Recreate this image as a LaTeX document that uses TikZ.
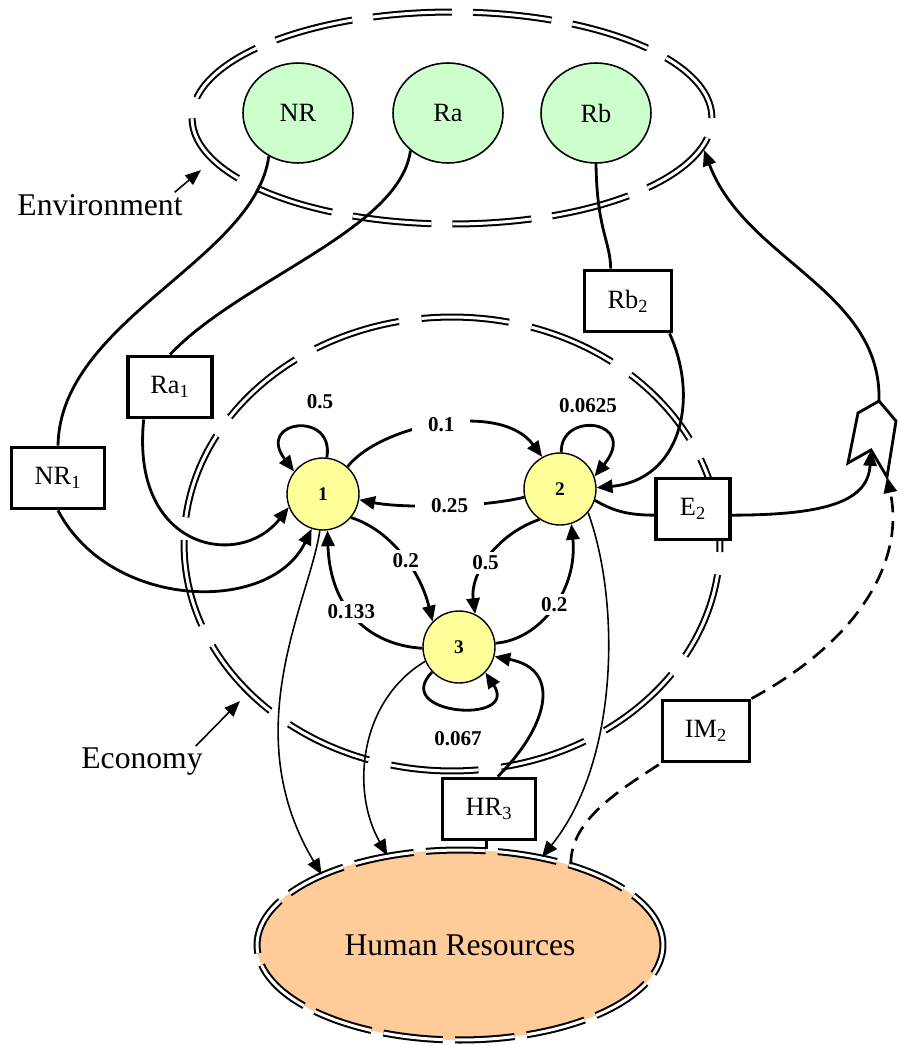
\documentclass[tikz,border=0pt]{standalone}
\usepackage{fontspec}
\setmainfont{Liberation Serif}
\usetikzlibrary{shapes.geometric,arrows.meta}
\definecolor{resourceFill}{RGB}{204,255,204}
\definecolor{sectorFill}{RGB}{255,255,153}
\definecolor{humanFill}{RGB}{255,204,153}

\begin{document}
\begin{tikzpicture}[
  x=0.02cm,
  y=-0.02cm,
  every node/.style={
    font=\fontsize{15}{17}\selectfont,
  },
  ring/.style={
    draw=black,
    line width=1.15pt,
    double=white,
    double distance=1.7pt,
  },
  resource/.style={
    ellipse,
    draw=black,
    line width=0.9pt,
    fill=resourceFill,
    minimum width=2.2cm,
    minimum height=2cm,
  },
  sector/.style={
    circle,
    draw=black,
    line width=0.8pt,
    fill=sectorFill,
    minimum size=1.44cm,
    inner sep=0pt,
    font=\bfseries\fontsize{11}{13}\selectfont,
  },
  flowbox/.style={
    draw=black,
    line width=2.2pt,
    fill=white,
    minimum width=1.74cm,
    minimum height=1.22cm,
    inner sep=2pt,
  },
  weight/.style={
    font=\bfseries\fontsize{12}{14}\selectfont,
    inner sep=2pt,
  },
  weightgap/.style={
    weight,
    fill=white,
    inner xsep=9pt,
  },
  caption/.style={
    font=\fontsize{18}{20}\selectfont,
    inner sep=1pt,
  },
  link/.style={
    line width=1.6pt,
  },
  flow/.style={
    link,
    -{Triangle[length=9pt,width=7.5pt]},
  },
  thinflow/.style={
    line width=0.9pt,
    -{Triangle[length=9pt,width=7.5pt]},
  },
  pointer/.style={
    line width=0.9pt,
    -{Triangle[length=9pt,width=7pt]},
  },
  imline/.style={
    line width=1.5pt,
    dash pattern=on 9pt off 5pt,
  }
]
\useasboundingbox (0,0) rectangle (901,1045);
\draw[ring,dash pattern=on 45pt off 12pt] (452,118) ellipse [x radius=5.2cm,y radius=2.12cm];
\draw[ring,dash pattern=on 50pt off 13pt] (452,544) ellipse [x radius=5.36cm,y radius=4.54cm];

\foreach \name/\x in {NR/298,Ra/448,Rb/596}
  \node[resource] (\name) at (\x,113) {\name};

\node[flowbox,minimum width=1.86cm] (NR1) at (58,478) {NR\textsubscript{1}};
\node[flowbox,minimum width=1.68cm] (Ra1) at (170,387) {Ra\textsubscript{1}};
\node[flowbox] (Rb2) at (628,301) {Rb\textsubscript{2}};
\node[flowbox,minimum width=1.48cm] (E2) at (693,509) {E\textsubscript{2}};
\node[flowbox,minimum width=1.86cm] (HR3) at (489,809) {HR\textsubscript{3}};
\node[flowbox] (IM2) at (706,731) {IM\textsubscript{2}};

\foreach \k/\x/\y in {1/323/494,2/560/489,3/459/647}
  \node[sector] (s\k) at (\x,\y) {\k};

\node[ring,ellipse,fill=humanFill,minimum width=8.12cm,minimum height=3.8cm,
  dash pattern=on 34pt off 7pt,font=\fontsize{18}{20}\selectfont] (HR) at (460,945) {Human Resources};

\node[caption] (envlabel) at (100,205) {Environment};
\node[caption] (ecolabel) at (142,762) {Economy};
\coordinate (envpoint) at (201,170);
\coordinate (ecopoint) at (240,701);
\draw[pointer] ([xshift=-0.2cm]envlabel.north east) -- (envpoint);
\draw[pointer] ([xshift=-0.18cm]ecolabel.north east) -- (ecopoint);

\coordinate (exptop) at (879,401);
\coordinate (expnotch) at (871,450);
\coordinate (expfoot) at (887,477);
\coordinate (envtip) at (704,150);
\draw[link,line join=miter] (exptop) -- (858,413) -- (848,463) -- (expnotch) -- (expfoot) -- (896,421) -- cycle;

\draw[flow] (s1.48) .. controls (380,425) and (500,400) .. (s2.119) node[weightgap,pos=0.5] (w12) {0.1};
\draw[flow] (s2.193) .. controls (480,508) and (400,508) .. (s1.351) node[weightgap,pos=0.45] (w21) {0.25};
\draw[flow] (s1.320) .. controls (390,530) and (420,570) .. (s3.136) node[weightgap,pos=0.55] (w13) {0.2};
\draw[flow] (s2.236) .. controls (495,535) and (470,575) .. (s3.64) node[weightgap,pos=0.55] (w23) {0.5};
\draw[flow] (s3.182) .. controls (370,645) and (330,610) .. (s1.277) node[weightgap,pos=0.55] (w31) {0.133};
\draw[flow] (s3.6) .. controls (540,640) and (578,590) .. (s2.288) node[weightgap,pos=0.52] (w32) {0.2};

\draw[flow] (s1.84) .. controls (335,410) and (255,420) .. (s1.142);
\draw[flow] (s2.88) .. controls (560,410) and (640,420) .. (s2.20);
\draw[flow] (s3.223) .. controls (390,715) and (520,725) .. (s3.316);
\node[weight] (w11) at (320,402) {0.5};
\node[weight] (w22) at (588,406) {0.0625};
\node[weight] (w33) at (458,739) {0.067};

\draw[link] (NR.236) .. controls (255,260) and (60,320) .. (NR1.north);
\draw[flow] (NR1.south) .. controls (110,610) and (270,615) .. (s1.252);
\draw[link] (Ra.225) .. controls (400,230) and (240,280) .. (Ra1.north);
\draw[flow] (Ra1.231) .. controls (130,550) and (240,570) .. (s1.201);
\draw[link] (Rb.south) .. controls (597,230) and (610,240) .. (Rb2.118);
\draw[flow] (Rb2.322) .. controls (700,400) and (680,480) .. (s2.2);
\draw[link] (s2.342) .. controls (615,512) and (630,515) .. (E2.189);
\draw[flow] (E2.351) .. controls (830,515) and (868,500) .. (expnotch);
\draw[flow] (exptop) .. controls (882,290) and (745,260) .. (envtip);

\draw[imline] (HR.36) .. controls (570,820) and (620,790) .. (IM2.south west);
\draw[imline,-{Triangle[length=9pt,width=7.5pt]}] (IM2.north east) .. controls (860,640) and (905,560) .. (expfoot);

\draw[thinflow] (s1.265) .. controls (310,600) and (235,730) .. (HR.153);
\draw[thinflow] (s3.203) .. controls (360,700) and (350,790) .. (HR.129);
\draw[thinflow] (s2.320) .. controls (620,600) and (620,760) .. (HR.47);
\draw[flow] (HR3.75) .. controls (545,730) and (565,670) .. (s3.345);
\draw[link] (HR3.265) -- (HR3.265 |- HR.north);
\end{tikzpicture}
\end{document}
